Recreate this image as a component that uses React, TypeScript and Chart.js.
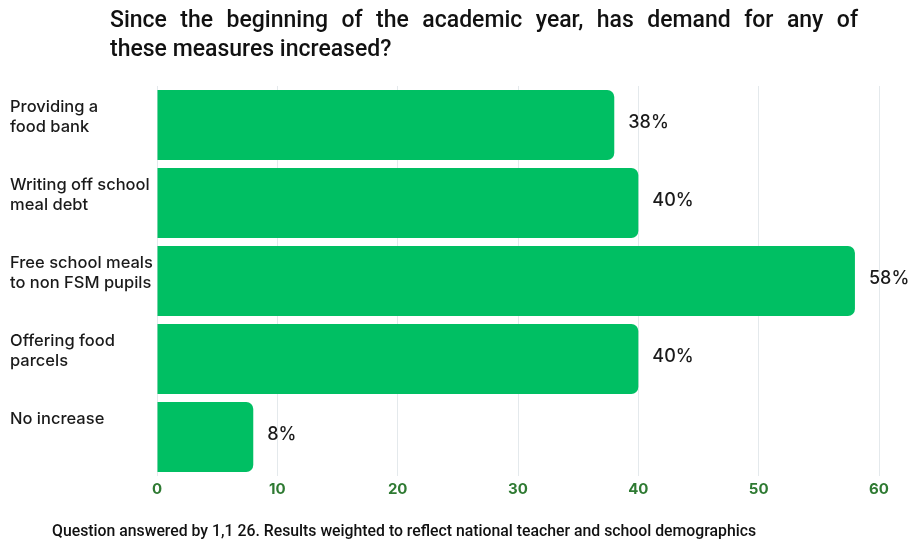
import React, { useEffect, useRef } from "react";
import { Chart, registerables } from "chart.js";

Chart.register(...registerables);

const TITLE_LINES = [
  "Since the beginning of the academic year, has demand for any of",
  "these measures increased?",
];
const FOOTNOTE = "Question answered by 1,1 26. Results weighted to reflect national teacher and school demographics";
const categories: string[][] = [
  ["Providing a", "food bank"],
  ["Writing off school", "meal debt"],
  ["Free school meals", "to non FSM pupils"],
  ["Offering food", "parcels"],
  ["No increase"],
];
const values = [38, 40, 58, 40, 8];
const xMax = 60;
const xStep = 10;

const labelPlugin = {
  id: "customLabels",
  afterDatasetsDraw(chart: any) {
    const ctx = chart.ctx;
    const meta = chart.getDatasetMeta(0);
    ctx.save();
    ctx.fillStyle = "#1a1a1a";
    ctx.textBaseline = "middle";
    ctx.textAlign = "left";
    ctx.font = "500 18px Inter";
    meta.data.forEach((bar: any, i: number) => {
      ctx.fillText(values[i] + "%", bar.x + 14, bar.y - 2);
    });
    ctx.font = "450 16.5px Inter";
    const yScale = chart.scales.y;
    categories.forEach((lines, i) => {
      const cy = yScale.getPixelForValue(i);
      lines.forEach((ln, j) => {
        ctx.fillText(ln, 10, cy - 18 + j * 20);
      });
    });
    ctx.restore();
  },
};

export default function App() {
  const ref = useRef<HTMLCanvasElement | null>(null);
  useEffect(() => {
    document.body.style.margin = "0";
    const chart = new Chart(ref.current as HTMLCanvasElement, {
      type: "bar",
      data: {
        labels: categories.map((c) => c.join(" ")),
        datasets: [
          {
            data: values,
            backgroundColor: "#00bf63",
            borderRadius: 7,
            borderSkipped: "start",
            barPercentage: 0.9,
            categoryPercentage: 1,
          },
        ],
      },
      options: {
        indexAxis: "y",
        animation: false,
        responsive: false,
        layout: { padding: { left: 0, right: 31, top: 86, bottom: 26 } },
        plugins: { legend: { display: false }, tooltip: { enabled: false }, title: { display: false } },
        scales: {
          x: {
            min: 0,
            max: xMax,
            grid: { color: "#e4e9ec", drawTicks: false },
            border: { display: false },
            ticks: {
              stepSize: xStep,
              padding: 4,
              color: "#2e7a32",
              font: { family: "Inter", size: 15, weight: "bold" },
            },
            afterFit: (s: any) => {
              s.height = 40;
            },
          },
          y: {
            grid: { display: false },
            border: { display: false },
            ticks: { display: false },
            afterFit: (s: any) => {
              s.width = 157;
            },
          },
        },
      },
      plugins: [labelPlugin],
    } as any);
    return () => chart.destroy();
  }, []);

  const titleStyle: React.CSSProperties = {
    fontFamily: "Roboto",
    fontWeight: 500,
    fontSize: 23,
    lineHeight: "29px",
    color: "#111",
    whiteSpace: "nowrap",
  };

  return (
    <div style={{ position: "relative", width: 910, height: 542, background: "#fff", overflow: "hidden" }}>
      <canvas ref={ref} width={910} height={542} style={{ position: "absolute", left: 0, top: 0 }} />
      <div style={{ position: "absolute", left: 110, top: 5, width: 748 }}>
        <div style={{ ...titleStyle, whiteSpace: "normal", textAlign: "justify", textAlignLast: "justify" }}>
          {TITLE_LINES[0]}
        </div>
        <div style={titleStyle}>{TITLE_LINES[1]}</div>
      </div>
      <div
        style={{
          position: "absolute",
          left: 52,
          top: 521,
          fontFamily: "Roboto",
          fontWeight: 500,
          fontSize: 15.8,
          lineHeight: "20px",
          color: "#111",
          whiteSpace: "nowrap",
        }}
      >
        {FOOTNOTE}
      </div>
    </div>
  );
}
